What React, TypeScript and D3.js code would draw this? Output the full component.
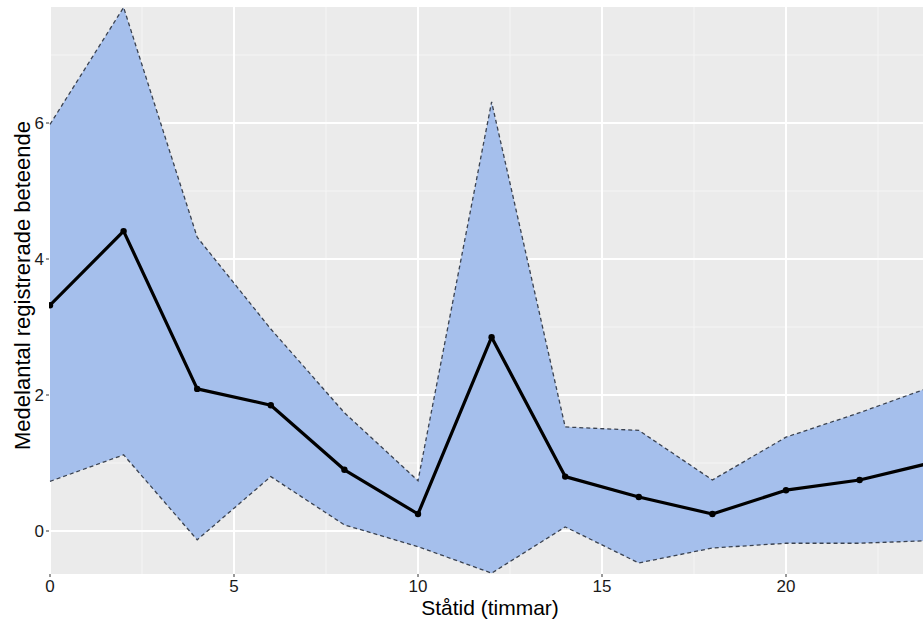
import React from 'react';
import * as d3 from 'd3';

// hours parked (x), mean registered behaviour and the band around it
const hours = [0, 2, 4, 6, 8, 10, 12, 14, 16, 18, 20, 22, 24];
const meanValues = [3.32, 4.41, 2.09, 1.85, 0.9, 0.25, 2.85, 0.8, 0.5, 0.25, 0.6, 0.75, 1.01];
const upperValues = [5.98, 7.7, 4.32, 2.97, 1.74, 0.74, 6.31, 1.53, 1.48, 0.75, 1.38, 1.74, 2.13];
const lowerValues = [0.73, 1.12, -0.13, 0.8, 0.09, -0.23, -0.62, 0.06, -0.47, -0.25, -0.18, -0.18, -0.14];
const xTicks = [0, 5, 10, 15, 20];
const yTicks = [0, 2, 4, 6];
const xMinor = [2.5, 7.5, 12.5, 17.5, 22.5];
const yMinor = [1, 3, 5, 7];

const W = 923;
const H = 623;
const panel = { left: 49, top: 7, right: 923, bottom: 574 };

export default function App() {
  const x = d3.scaleLinear().domain([0, 24]).range([50, 50 + 24 * 36.8]);
  const y = d3.scaleLinear().domain([0, 6]).range([531, 123]);

  const rows = hours.map((h, i) => ({ h, m: meanValues[i], lo: lowerValues[i], hi: upperValues[i] }));

  const area = d3.area<any>()
    .x(d => x(d.h))
    .y0(d => y(d.lo))
    .y1(d => y(d.hi));
  const upper = d3.line<any>().x(d => x(d.h)).y(d => y(d.hi));
  const lower = d3.line<any>().x(d => x(d.h)).y(d => y(d.lo));
  const mean = d3.line<any>().x(d => x(d.h)).y(d => y(d.m));

  const font = 'Liberation Sans, Arial, sans-serif';

  return (
    <div style={{ position: 'absolute', left: 0, top: 0 }}>
      <svg width={W} height={H} style={{ display: 'block', background: '#fff' }}>
        <defs>
          <clipPath id="panel-clip">
            <rect x={panel.left} y={panel.top} width={panel.right - panel.left} height={panel.bottom - panel.top} />
          </clipPath>
        </defs>
        <rect x={panel.left} y={panel.top} width={panel.right - panel.left} height={panel.bottom - panel.top} fill="#ebebeb" />
        <g clipPath="url(#panel-clip)">
          {xMinor.map(t => (
            <line key={'xm' + t} x1={x(t)} x2={x(t)} y1={panel.top} y2={panel.bottom} stroke="#f5f5f5" strokeWidth={1} />
          ))}
          {yMinor.map(t => (
            <line key={'ym' + t} x1={panel.left} x2={panel.right} y1={y(t)} y2={y(t)} stroke="#f5f5f5" strokeWidth={1} />
          ))}
          {xTicks.map(t => (
            <line key={'xg' + t} x1={x(t)} x2={x(t)} y1={panel.top} y2={panel.bottom} stroke="#fff" strokeWidth={2} />
          ))}
          {yTicks.map(t => (
            <line key={'yg' + t} x1={panel.left} x2={panel.right} y1={y(t)} y2={y(t)} stroke="#fff" strokeWidth={2} />
          ))}
          <path d={area(rows) || ''} fill="#a5bfec" />
          <path d={upper(rows) || ''} fill="none" stroke="#3a4250" strokeWidth={1.3} strokeDasharray="4,3" />
          <path d={lower(rows) || ''} fill="none" stroke="#3a4250" strokeWidth={1.3} strokeDasharray="4,3" />
          <path d={mean(rows) || ''} fill="none" stroke="#000" strokeWidth={3.2} strokeLinejoin="round" />
          {rows.map(d => (
            <circle key={'p' + d.h} cx={x(d.h)} cy={y(d.m)} r={3.2} fill="#000" />
          ))}
        </g>
        {/* axes ticks and labels */}
        {xTicks.map(t => (
          <g key={'xt' + t}>
            <line x1={x(t)} x2={x(t)} y1={panel.bottom} y2={panel.bottom + 3} stroke="#333" strokeWidth={1} />
            <text x={x(t)} y={panel.bottom + 18} textAnchor="middle" fontFamily={font} fontSize={17} fill="#1a1a1a">{t}</text>
          </g>
        ))}
        {yTicks.map(t => (
          <g key={'yt' + t}>
            <line x1={panel.left - 3} x2={panel.left} y1={y(t)} y2={y(t)} stroke="#333" strokeWidth={1} />
            <text x={panel.left - 5} y={y(t)} dy="0.36em" textAnchor="end" fontFamily={font} fontSize={17} fill="#1a1a1a">{t}</text>
          </g>
        ))}
        <text x={490} y={615} textAnchor="middle" fontFamily={font} fontSize={21} fill="#000">Ståtid (timmar)</text>
        <text transform={`translate(30,${(panel.top + panel.bottom) / 2 - 5}) rotate(-90)`} textAnchor="middle" fontFamily={font} fontSize={22} fill="#000">Medelantal registrerade beteende</text>
      </svg>
    </div>
  );
}
